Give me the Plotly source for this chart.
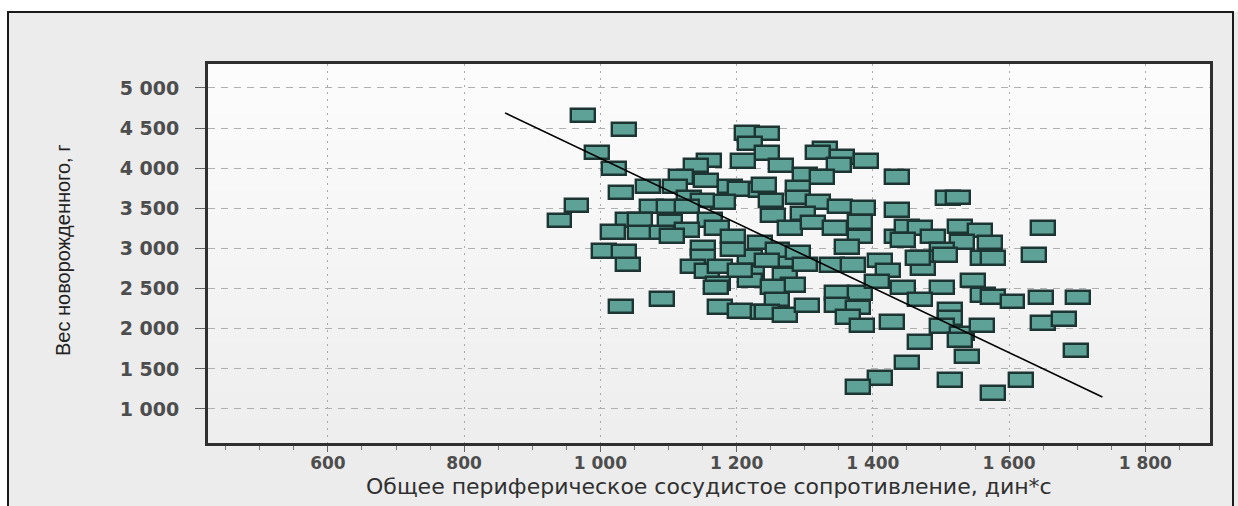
import plotly.graph_objects as go

# Total peripheral vascular resistance (dyn*s) and newborn weight (g)
resistance = [
    975, 1035, 995, 1020, 1030, 965, 940, 1040, 1030, 1090, 1005, 1035,
    1215, 1245, 1220, 1245, 1160, 1140, 1210, 1265, 1330, 1320, 1355, 1390,
    1350, 1300, 1325, 1435, 1118, 1155, 1190, 1070, 1110, 1205, 1235, 1240,
    1290, 1130, 1180, 1150, 1250, 1290, 1320, 1075, 1100, 1127, 1352, 1386,
    1435, 1510, 1525, 1040, 1058, 1102, 1161, 1171, 1018, 1058, 1090, 1127,
    1105, 1195, 1234, 1151, 1253, 1298, 1278, 1312, 1345, 1381, 1381, 1362,
    1435, 1450, 1469, 1488, 1528, 1557, 1572, 1531, 1502, 1444, 1650, 1637,
    1151, 1136, 1156, 1176, 1173, 1170, 1176, 1205, 1220, 1223, 1220, 1205,
    1239, 1274, 1340, 1371, 1411, 1422, 1474, 1506, 1474, 1562, 1547, 1562,
    1577, 1577, 1605, 1271, 1283, 1253, 1259, 1245, 1271, 1303, 1347, 1381,
    1406, 1444, 1502, 1469, 1347, 1378, 1364, 1384, 1428, 1513, 1513, 1502,
    1469, 1531, 1528, 1538, 1560, 1450, 1411, 1378, 1513, 1576, 1647, 1701,
    1650, 1681, 1698, 1618, 1466, 1260, 1290, 1300, 1195, 1245,
]
weight = [
    4660, 4480, 4200, 4000, 3700, 3540, 3350, 2800, 2280, 2370, 2970, 2960,
    4440, 4430, 4310, 4190, 4100, 4030, 4090, 4030, 4250, 4200, 4140, 4090,
    4040, 3915, 3890, 3890, 3890, 3850, 3770, 3770, 3770, 3740, 3730, 3790,
    3755, 3640, 3580, 3600, 3600, 3640, 3580, 3520, 3520, 3520, 3520, 3505,
    3480, 3630, 3640, 3355, 3355, 3330, 3355, 3255, 3205, 3195, 3195, 3230,
    3155, 3145, 3070, 3005, 3415, 3440, 3255, 3320, 3255, 3330, 3145, 3020,
    3145, 3270, 3255, 3145, 3270, 3220, 3070, 3080, 2980, 3105, 3255, 2920,
    2895, 2780, 2720, 2780, 2560, 2510, 2270, 2220, 2895, 2705, 2605, 2730,
    2210, 2855, 2795, 2795, 2855, 2730, 2880, 2920, 2755, 2880, 2605, 2420,
    2880, 2395, 2335, 2670, 2545, 2520, 2360, 2210, 2170, 2285, 2445, 2445,
    2585, 2510, 2510, 2360, 2295, 2260, 2145, 2045, 2085, 2235, 2135, 2035,
    1835, 1945, 1860, 1650, 2045, 1575, 1385, 1275, 1360, 1200, 2385, 2385,
    2070, 2120, 1725, 1360, 2880, 2980, 2950, 2800, 2990, 2850,
]

# Trend line end points
trend_resistance = [860, 1737]
trend_weight = [4690, 1150]

x_ticks = [600, 800, 1000, 1200, 1400, 1600, 1800]
x_tick_labels = ["600", "800", "1 000", "1 200", "1 400", "1 600", "1 800"]
y_ticks = [1000, 1500, 2000, 2500, 3000, 3500, 4000, 4500, 5000]
y_tick_labels = ["1 000", "1 500", "2 000", "2 500", "3 000",
                 "3 500", "4 000", "4 500", "5 000"]

x_title = "Общее периферическое сосудистое сопротивление, дин*с"
y_title = "Вес новорожденного, г"

W, H = 1238, 506
ML, MR, MT, MB = 208, 28, 64, 63
PW, PH = W - ML - MR, H - MT - MB

# rectangular point markers, size in data units
BOX_W = 35
BOX_H = 165


def px_x(p):
    return (p - ML) / PW


def px_y(p):
    return (H - MB - p) / PH


fig = go.Figure()

fig.add_trace(go.Bar(
    x=resistance,
    y=[BOX_H] * len(resistance),
    base=[w - BOX_H / 2 for w in weight],
    width=BOX_W,
    marker=dict(color="#5da197", line=dict(color="#1c3532", width=2.4)),
    hoverinfo="skip",
    showlegend=False,
))

fig.add_trace(go.Scatter(
    x=trend_resistance, y=trend_weight, mode="lines",
    line=dict(color="#000000", width=1.6),
    hoverinfo="skip", showlegend=False,
))

shapes = []
# soft vertical gradient inside the plotting area
n_bands = 30
for i in range(n_bands):
    t = i / (n_bands - 1)
    c = int(round(252 - t * (252 - 238)))
    shapes.append(dict(
        type="rect", xref="x domain", yref="y domain",
        x0=0, x1=1, y0=1 - (i + 1) / n_bands, y1=1 - i / n_bands + 0.001,
        fillcolor=f"rgb({c},{c},{c})", line=dict(width=0), layer="below",
    ))

# white margin outside the outer frame
shapes.append(dict(type="rect", xref="paper", yref="paper",
                   x0=px_x(-5), x1=px_x(8), y0=px_y(H + 5), y1=px_y(-5),
                   fillcolor="white", line=dict(width=0), layer="below"))
shapes.append(dict(type="rect", xref="paper", yref="paper",
                   x0=px_x(-5), x1=px_x(W + 5), y0=px_y(12), y1=px_y(-5),
                   fillcolor="white", line=dict(width=0), layer="below"))
# outer frame
shapes.append(dict(type="rect", xref="paper", yref="paper",
                   x0=px_x(8), x1=px_x(1233), y0=px_y(H + 10), y1=px_y(12),
                   fillcolor="rgba(0,0,0,0)",
                   line=dict(color="#1a1a1a", width=2), layer="above"))

x_tick_font = dict(family="DejaVu Sans", size=17, color="#4d4d4d", weight="bold")
y_tick_font = dict(family="DejaVu Sans", size=19, color="#4d4d4d", weight="bold")

annotations = [
    dict(text=x_title, xref="paper", yref="paper",
         x=px_x(709), y=px_y(486), xanchor="center", yanchor="middle",
         showarrow=False,
         font=dict(family="DejaVu Sans", size=22, color="#303030")),
    dict(text=y_title, xref="paper", yref="paper",
         x=px_x(63), y=px_y(250), xanchor="center", yanchor="middle",
         textangle=-90, showarrow=False,
         font=dict(family="Liberation Sans, Arial, sans-serif",
                   size=20, color="#222222")),
]

fig.update_layout(
    width=W, height=H,
    margin=dict(l=ML, r=MR, t=MT, b=MB, pad=0),
    paper_bgcolor="#ececec",
    plot_bgcolor="#f5f5f5",
    barmode="overlay",
    bargap=0,
    showlegend=False,
    shapes=shapes,
    annotations=annotations,
    xaxis=dict(
        range=[424, 1895],
        tickmode="array", tickvals=x_ticks, ticktext=x_tick_labels,
        ticks="outside", ticklen=6, tickwidth=1, tickcolor="#666666",
        tickfont=x_tick_font, ticklabelstandoff=-3,
        showgrid=True, gridcolor="#a9a9a9", gridwidth=1, griddash="2px,5px",
        showline=True, linewidth=3, linecolor="#2f2f2f", mirror=True,
        zeroline=False,
        minor=dict(tick0=0, dtick=50, ticks="outside", ticklen=4,
                   tickcolor="#777777", showgrid=False),
    ),
    yaxis=dict(
        range=[576, 5299],
        tickmode="array", tickvals=y_ticks, ticktext=y_tick_labels,
        ticks="outside", ticklen=10, tickwidth=1, tickcolor="#666666",
        tickfont=y_tick_font, ticklabelstandoff=12,
        showgrid=True, gridcolor="#b0b0b0", gridwidth=1, griddash="7px,6px",
        showline=True, linewidth=3, linecolor="#2f2f2f", mirror=True,
        zeroline=False,
    ),
)

fig.write_html("out.html")
